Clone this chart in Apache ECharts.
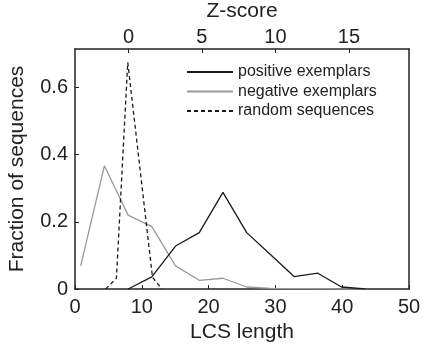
<!DOCTYPE html>
<html>
<head>
<meta charset="utf-8">
<script src="https://cdn.jsdelivr.net/npm/echarts@6/dist/echarts.min.js"></script>
<style>html,body{margin:0;padding:0;background:#fff}#c{width:423px;height:348px}</style>
</head>
<body>
<div id="c"></div>
<script>
// LCS length bin centres
const lcsBins = [0.85, 4.4, 7.95, 11.5, 15.05, 18.6, 22.15, 25.7, 29.25, 32.8, 36.35, 39.9, 43.45];
// positive exemplars (starting at bin index 2)
const positiveX = [7.95, 11.5, 15.05, 18.6, 22.15, 25.7, 29.25, 32.8, 36.35, 39.9, 43.45];
const positiveY = [0, 0.036, 0.128, 0.168, 0.288, 0.168, 0.103, 0.037, 0.047, 0.006, 0];
// negative exemplars
const negativeY = [0.069, 0.367, 0.22, 0.186, 0.069, 0.026, 0.032, 0.006, 0.002, 0.001, 0.001, 0, 0];
// random sequences
const randomX = [4.6, 6.2, 7.9, 11.6, 13.0];
const randomY = [0, 0.032, 0.675, 0.035, 0];
// Z-score top axis
const zTicks = [0, 5, 10, 15];
const zOffset = 8;     // LCS length at Z = 0
const zScale = 2.2;    // LCS units per Z unit
const yTicks = [0, 0.2, 0.4, 0.6];
const seriesNames = ['positive exemplars', 'negative exemplars', 'random sequences'];

const FONT = 'Liberation Sans, Arial, Helvetica, sans-serif';
const TXT = '#222';
const zip = (xs, ys) => xs.map((x, i) => [x, ys[i]]);

const chart = echarts.init(document.getElementById('c'), null, {renderer: 'canvas'});
chart.setOption({
  animation: false,
  backgroundColor: '#fff',
  textStyle: {fontFamily: FONT, color: TXT},
  grid: {left: 75, right: 14, top: 49, bottom: 59, containLabel: false, outerBoundsMode: 'none'},
  legend: {
    orient: 'vertical', left: 186, top: 64, padding: 0,
    itemWidth: 46, itemHeight: 16, itemGap: 3.5,
    textStyle: {fontSize: 16, color: TXT, fontFamily: FONT},
    itemStyle: {opacity: 0},
    data: seriesNames,
    selectedMode: false
  },
  xAxis: [{
    type: 'value', position: 'bottom', min: 0, max: 50, interval: 10,
    name: 'LCS length', nameLocation: 'middle', nameGap: 30,
    nameTextStyle: {fontSize: 21, color: TXT, fontFamily: FONT},
    axisLine: {show: true, onZero: false, lineStyle: {color: TXT, width: 1.5}},
    axisTick: {show: true, inside: true, length: 4, lineStyle: {color: TXT}},
    axisLabel: {fontSize: 20, color: TXT, margin: 8, fontFamily: FONT},
    splitLine: {show: false}
  }, {
    type: 'value', position: 'top', min: 0, max: 50,
    name: 'Z-score', nameLocation: 'middle', nameGap: 23,
    nameTextStyle: {fontSize: 21, color: TXT, fontFamily: FONT},
    axisLine: {show: true, onZero: false, lineStyle: {color: TXT, width: 1.5}},
    axisTick: {show: true, inside: true, length: 4, lineStyle: {color: TXT},
      customValues: zTicks.map(z => zOffset + z * zScale)},
    axisLabel: {fontSize: 20, color: TXT, margin: 2, fontFamily: FONT,
      customValues: zTicks.map(z => zOffset + z * zScale),
      formatter: v => String(Math.round((v - zOffset) / zScale))},
    splitLine: {show: false}
  }],
  yAxis: [{
    type: 'value', position: 'left', min: 0, max: 0.715, interval: 0.2,
    name: 'Fraction of sequences', nameLocation: 'middle', nameGap: 47,
    nameTextStyle: {fontSize: 21, color: TXT, fontFamily: FONT},
    axisLine: {show: true, onZero: false, lineStyle: {color: TXT, width: 1.5}},
    axisTick: {show: true, inside: true, length: 4, lineStyle: {color: TXT},
      customValues: yTicks},
    axisLabel: {fontSize: 20, color: TXT, margin: 7, fontFamily: FONT,
      customValues: yTicks,
      formatter: v => (v === 0 ? '0' : String(+v.toFixed(1)))},
    splitLine: {show: false}
  }, {
    type: 'value', position: 'right', min: 0, max: 0.715,
    axisLine: {show: true, onZero: false, lineStyle: {color: TXT, width: 1.5}},
    axisTick: {show: false}, axisLabel: {show: false}, splitLine: {show: false}
  }],
  series: [{
    name: seriesNames[0], type: 'line', symbol: 'none', z: 4,
    data: zip(positiveX, positiveY),
    lineStyle: {color: '#1a1a1a', width: 1.3}, itemStyle: {color: '#1a1a1a'}
  }, {
    name: seriesNames[1], type: 'line', symbol: 'none', z: 2,
    data: zip(lcsBins, negativeY),
    lineStyle: {color: '#999999', width: 1.3}, itemStyle: {color: '#999999'}
  }, {
    name: seriesNames[2], type: 'line', symbol: 'none', z: 3,
    data: zip(randomX, randomY),
    lineStyle: {color: '#1a1a1a', width: 1.3, type: [4, 3]}, itemStyle: {color: '#1a1a1a'}
  }]
});
</script>
</body>
</html>
